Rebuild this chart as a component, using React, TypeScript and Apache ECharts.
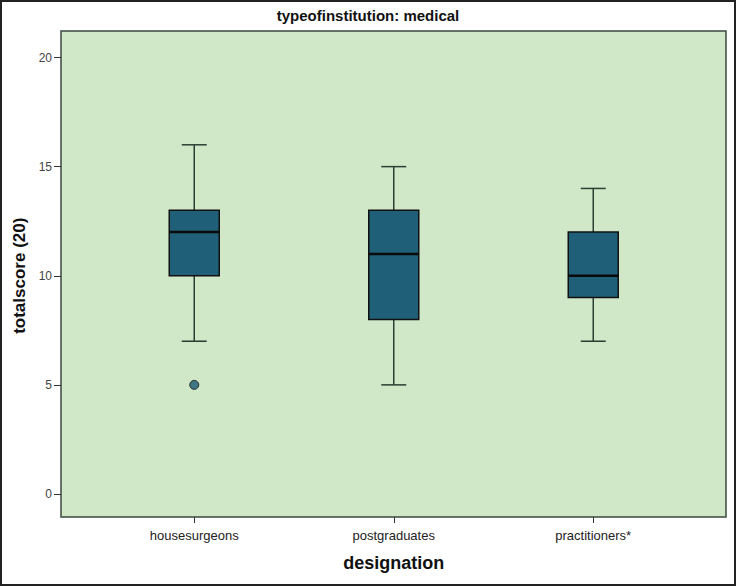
import React, { useEffect, useRef } from "react";
import * as echarts from "echarts";

const categories = ["housesurgeons", "postgraduates", "practitioners*"];
// [min, q1, median, q3, max]
const boxStats = [
  [7, 10, 12, 13, 16],
  [5, 8, 11, 13, 15],
  [7, 9, 10, 12, 14],
];
const outliers = [[0, 5]];
const yTicks = [0, 5, 10, 15, 20];

const FONT = "'Liberation Sans', Arial, sans-serif";

export default function App() {
  const ref = useRef<HTMLDivElement>(null);
  useEffect(() => {
    document.body.style.margin = "0";
    const chart = echarts.init(ref.current!, null, { renderer: "svg" });
    const boxData = boxStats.map((s, i) => [i, ...s]);
    const option: any = {
      animation: false,
      backgroundColor: "#ffffff",
      title: {
        text: "typeofinstitution: medical",
        left: "center",
        top: 3,
        textStyle: { fontFamily: FONT, fontSize: 15, fontWeight: "bold", color: "#111" },
      },
      graphic: [
        {
          type: "rect",
          z: -10,
          shape: { x: 61, y: 31, width: 665, height: 486 },
          style: { fill: "#d0e7c8", stroke: "#3a4a3e", lineWidth: 1.5 },
          silent: true,
        },
        {
          type: "rect",
          z: 100,
          shape: { x: 1, y: 1, width: 734, height: 584 },
          style: { fill: "none", stroke: "#222", lineWidth: 2 },
          silent: true,
        },
      ],
      grid: { left: 94.5, right: 43, top: 57.5, bottom: 92 },
      xAxis: {
        type: "category",
        data: categories,
        offset: 23,
        boundaryGap: true,
        axisLine: { show: false, onZero: false },
        axisTick: { show: true, alignWithLabel: true, length: 6, lineStyle: { color: "#333", width: 1 } },
        axisLabel: { margin: 12, fontFamily: FONT, fontSize: 13, color: "#222" },
        splitLine: { show: false },
        name: "designation",
        nameLocation: "middle",
        nameGap: 37,
        nameTextStyle: { fontFamily: FONT, fontSize: 18, fontWeight: "bold", color: "#111" },
      },
      yAxis: {
        type: "value",
        min: 0,
        max: 20,
        interval: 5,
        offset: 33.5,
        axisLine: { show: false, onZero: false },
        axisTick: { show: true, length: 7, lineStyle: { color: "#333", width: 1 } },
        axisLabel: {
          margin: 9,
          fontFamily: FONT,
          fontSize: 12,
          color: "#444",
          formatter: (v: number) => (yTicks.includes(v) ? String(v) : ""),
        },
        splitLine: { show: false },
        name: "totalscore (20)",
        nameLocation: "middle",
        nameGap: 27,
        nameTextStyle: { fontFamily: FONT, fontSize: 17, fontWeight: "bold", color: "#111" },
      },
      series: [
        {
          type: "custom",
          z: 2,
          data: boxData,
          encode: { x: 0, y: [1, 2, 3, 4, 5] },
          renderItem: (params: any, api: any) => {
            const idx = api.value(0);
            const pMin = api.coord([idx, api.value(1)]);
            const pQ1 = api.coord([idx, api.value(2)]);
            const pMed = api.coord([idx, api.value(3)]);
            const pQ3 = api.coord([idx, api.value(4)]);
            const pMax = api.coord([idx, api.value(5)]);
            const cx = pMed[0];
            const bw = 50;
            const cw = 25;
            const whisker = { stroke: "#2c3f33", lineWidth: 1.5 };
            return {
              type: "group",
              children: [
                { type: "line", shape: { x1: cx, y1: pQ3[1], x2: cx, y2: pMax[1] }, style: whisker },
                { type: "line", shape: { x1: cx, y1: pQ1[1], x2: cx, y2: pMin[1] }, style: whisker },
                { type: "line", shape: { x1: cx - cw / 2, y1: pMax[1], x2: cx + cw / 2, y2: pMax[1] }, style: whisker },
                { type: "line", shape: { x1: cx - cw / 2, y1: pMin[1], x2: cx + cw / 2, y2: pMin[1] }, style: whisker },
                {
                  type: "rect",
                  shape: { x: cx - bw / 2, y: pQ3[1], width: bw, height: pQ1[1] - pQ3[1] },
                  style: { fill: "#1f5f78", stroke: "#111", lineWidth: 1.5 },
                },
                {
                  type: "line",
                  shape: { x1: cx - bw / 2, y1: pMed[1], x2: cx + bw / 2, y2: pMed[1] },
                  style: { stroke: "#0a0a0a", lineWidth: 2.5 },
                },
              ],
            };
          },
        },
        {
          type: "scatter",
          z: 3,
          data: outliers,
          symbol: "circle",
          symbolSize: 9,
          itemStyle: { color: "#1c5a72", borderColor: "#111", borderWidth: 1 },
        },
      ],
    };
    chart.setOption(option);
    return () => chart.dispose();
  }, []);
  return <div ref={ref} style={{ width: 736, height: 586 }} />;
}
